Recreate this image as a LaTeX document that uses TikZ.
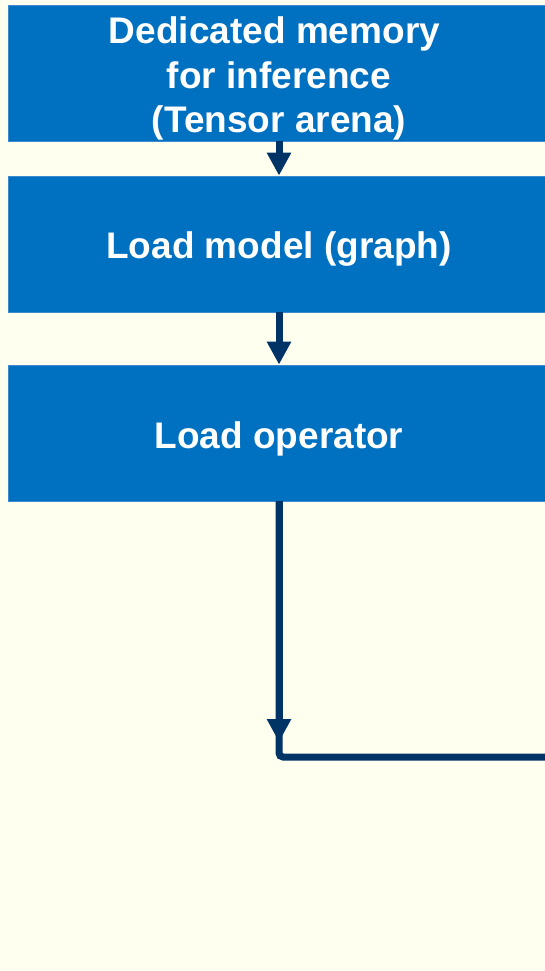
\documentclass[tikz,border=0pt]{standalone}
\usepackage{fontspec}
\setmainfont{Liberation Sans}
\usetikzlibrary{arrows.meta}
\definecolor{pagebg}{HTML}{FFFFF0}
\definecolor{boxblue}{HTML}{0070C0}
\definecolor{boxedge}{HTML}{3D8BCF}
\definecolor{flownavy}{HTML}{003366}
\tikzset{
  stagebox/.style={rectangle, fill=boxblue, draw=boxedge, line width=0.8pt,
    minimum width=542pt, minimum height=136pt, inner sep=0pt},
  stagetext/.style={text=white, align=center, inner sep=0pt, yshift=-5.5pt,
    font=\bfseries\fontsize{37}{44.5}\selectfont},
  flow/.style={draw=flownavy, line width=7pt},
  flowarrow/.style={flow, -{Triangle[length=23pt, width=23pt]}, fill=flownavy},
}
\begin{document}
\begin{tikzpicture}[x=1pt, y=-1pt]
  \path[use as bounding box, fill=pagebg] (0,0) rectangle (545,971);
  \clip (0,0) rectangle (545,971);

  % pipeline stages
  \node[stagebox, label={[stagetext, name=arenatext]center:
      Dedicated memory\hspace*{9pt}\\for inference\hspace*{9pt}\\(Tensor arena)}]
      (arena) at (279,73) {};
  \node[stagebox, label={[stagetext, name=modeltext]center:Load model (graph)}]
      (model) at (279,244) {};
  \node[stagebox, label={[stagetext, name=opertext]center:Load operator}]
      (oper) at (279,433) {};

  % connectors between stages
  \draw[flowarrow] (arena.south) -- (model.north);
  \draw[flowarrow] (model.south) -- (oper.north);

  % loop line leaving the operator stage
  \coordinate (tip)     at (279,742);
  \coordinate (corner)  at (279,757);
  \coordinate (loopend) at (560,757);
  \draw[flow, rounded corners=4pt] (oper.south) -- (corner) -- (loopend);
  \draw[flowarrow] (oper.south) -- (tip);
\end{tikzpicture}
\end{document}
